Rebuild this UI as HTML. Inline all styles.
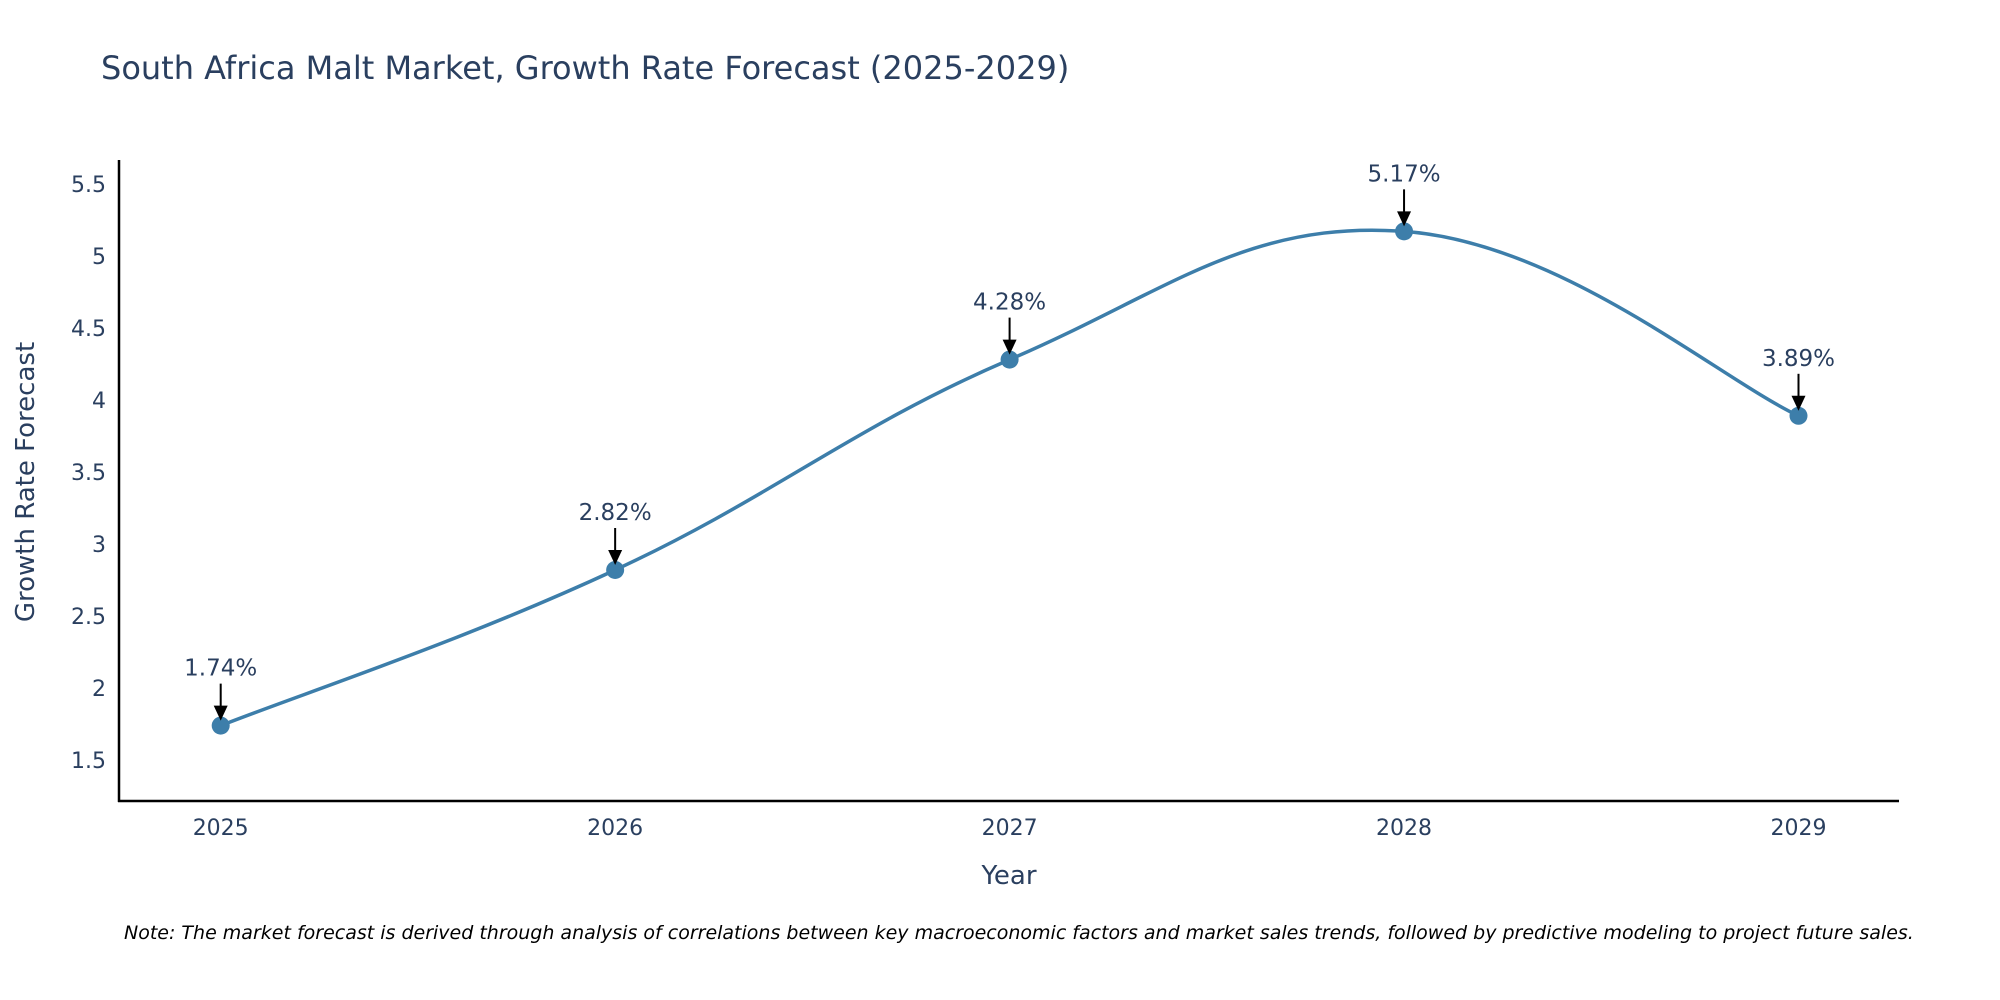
<!DOCTYPE html>
<html><head><meta charset="utf-8"><style>
body{margin:0;background:#fff;}
svg{display:block;font-family:"DejaVu Sans","Liberation Sans",sans-serif;}
</style></head><body>
<svg id="chart" width="2000" height="1000">
<text x="101" y="79" font-size="32" fill="#2a3f5f">South Africa Malt Market, Growth Rate Forecast (2025-2029)</text>
<g id="yticks"></g><g id="xticks"></g>
<line x1="119" y1="160" x2="119" y2="802" stroke="#000" stroke-width="2.5"/>
<line x1="118" y1="801" x2="1899" y2="801" stroke="#000" stroke-width="2.5"/>
<path id="line" fill="none" stroke="#3d7eaa" stroke-width="3.5"/>
<g id="marks"></g>
<text x="1009" y="884" font-size="26" fill="#2a3f5f" text-anchor="middle">Year</text>
<text transform="translate(34,482) rotate(-90)" font-size="26" fill="#2a3f5f" text-anchor="middle">Growth Rate Forecast</text>
<text x="124" y="939" font-size="19" font-style="italic" fill="#000">Note: The market forecast is derived through analysis of correlations between key macroeconomic factors and market sales trends, followed by predictive modeling to project future sales.</text>
</svg>
<script>
const years=[2025,2026,2027,2028,2029];
const values=[1.74,2.82,4.28,5.17,3.89];
const labels=["1.74%","2.82%","4.28%","5.17%","3.89%"];
const yTicks=[1.5,2,2.5,3,3.5,4,4.5,5,5.5];
const NS="http://www.w3.org/2000/svg";
function xs(v){return 220.7+(v-2025)*(1798.5-220.7)/4;}
function ys(v){return 760.2-(v-1.5)*144.1;}
function mk(t,a,p){const e=document.createElementNS(NS,t);for(const k in a)e.setAttribute(k,a[k]);p.appendChild(e);return e;}
const yt=document.getElementById('yticks');
yTicks.forEach(v=>{const t=mk('text',{x:106,y:ys(v)+8,'font-size':22,fill:'#2a3f5f','text-anchor':'end'},yt);


t.textContent=String(v);});
const xt=document.getElementById('xticks');
years.forEach(v=>{const t=mk('text',{x:xs(v),y:835,'font-size':22,fill:'#2a3f5f','text-anchor':'middle'},xt);


t.textContent=String(v);});
const P=years.map((y,i)=>[xs(y),ys(values[i])]);
let d="M"+P[0][0]+","+P[0][1];const s=0.2;
for(let i=0;i<P.length-1;i++){const p0=P[Math.max(0,i-1)],p1=P[i],p2=P[i+1],p3=P[Math.min(P.length-1,i+2)];
const c1=[p1[0]+(p2[0]-p0[0])*s,p1[1]+(p2[1]-p0[1])*s],c2=[p2[0]-(p3[0]-p1[0])*s,p2[1]-(p3[1]-p1[1])*s];
d+=" C"+c1+" "+c2+" "+p2;}
document.getElementById('line').setAttribute('d',d);
const g=document.getElementById('marks');
P.forEach((p,i)=>{const c=mk('circle',{cx:p[0],cy:p[1],r:9,fill:'#3d7eaa'},g);


const a=mk('line',{x1:p[0],y1:p[1]-42,x2:p[0],y2:p[1]-18,stroke:'#000','stroke-width':2},g);


const h=mk('polygon',{points:(p[0]-7)+','+(p[1]-20)+' '+(p[0]+7)+','+(p[1]-20)+' '+p[0]+','+(p[1]-5),fill:'#000'},g);


const t=mk('text',{x:p[0],y:p[1]-50,'font-size':23,fill:'#2a3f5f','text-anchor':'middle'},g);


t.textContent=labels[i];});
</script>
</body></html>
